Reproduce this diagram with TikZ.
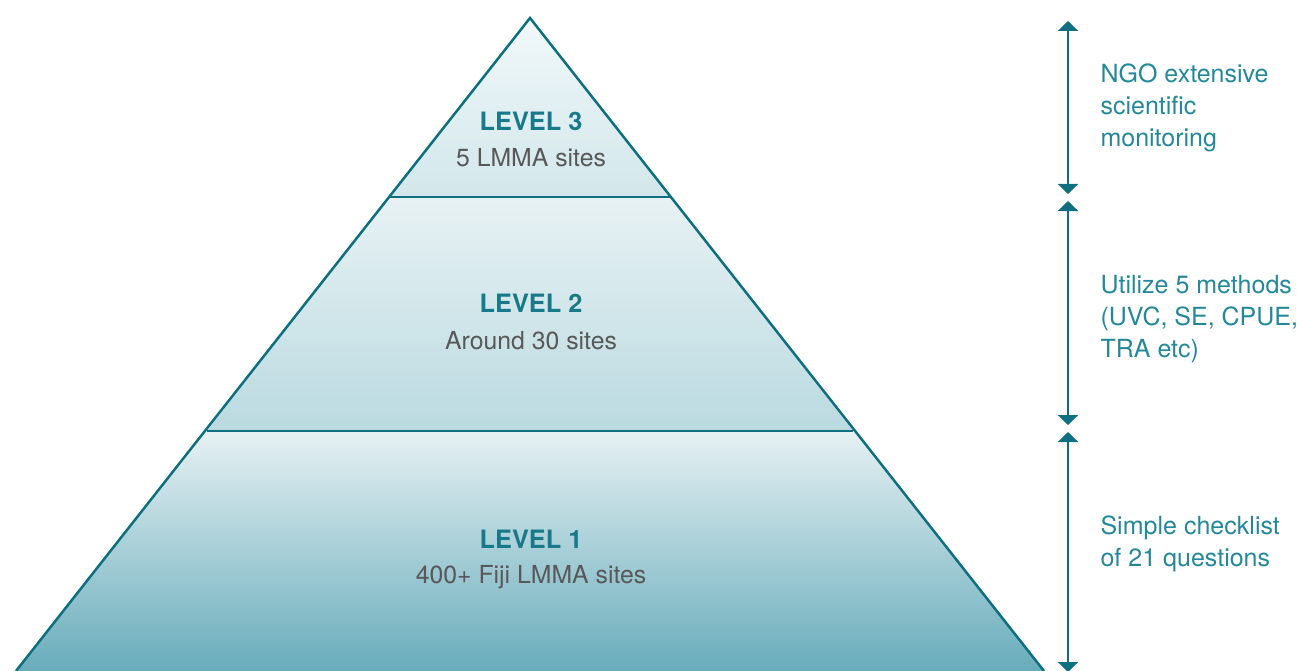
\documentclass[tikz,border=0pt]{standalone}
\usepackage{fontspec}
\setmainfont{TeX Gyre Heros}
\usetikzlibrary{arrows.meta}
\definecolor{edge}{HTML}{0E6F80}
\definecolor{teal}{HTML}{23899A}
\definecolor{levelc}{HTML}{17798A}
\definecolor{subc}{HTML}{585858}
\begin{document}
\begin{tikzpicture}[x=1pt,y=-1pt,
  outline/.style={draw=edge,line width=2.5pt,line join=miter},
  divider/.style={draw=edge,line width=2.5pt},
  span/.style={draw=edge,line width=2.6pt,{Triangle[width=20pt,length=10pt]}-{Triangle[width=20pt,length=10pt]}},
  levelname/.style={font=\fontsize{25.3}{28}\selectfont\bfseries,text=levelc,anchor=center},
  levelsub/.style={font=\fontsize{24.8}{28}\selectfont,text=subc,anchor=center},
  note/.style={font=\fontsize{25}{32}\selectfont,text=teal,anchor=west,align=left}]
\useasboundingbox (0,0) rectangle (1297,671);
% pyramid corners and tier boundaries
\coordinate (apex) at (530,18);
\coordinate (l3L) at (389,197); \coordinate (l3R) at (671,197);
\coordinate (l2L) at (207,431); \coordinate (l2R) at (853,431);
\coordinate (bL) at (16,671);  \coordinate (bR) at (1044,671);
% tier fills, each with its own vertical gradient
\shade[top color={rgb,255:red,241;green,248;blue,250},bottom color={rgb,255:red,210;green,231;blue,235}]
  (apex) -- (l3R) -- (l3L) -- cycle;
\shade[top color={rgb,255:red,232;green,242;blue,244},bottom color={rgb,255:red,186;green,218;blue,224}]
  (l3L) -- (l3R) -- (l2R) -- (l2L) -- cycle;
\shade[top color={rgb,255:red,230;green,241;blue,243},middle color={rgb,255:red,178;green,213;blue,220},bottom color={rgb,255:red,104;green,172;blue,187}]
  (l2L) -- (l2R) -- (bR) -- (bL) -- cycle;
% outline and dividers
\draw[outline] (bL) -- (apex) -- (bR);
\draw[divider] (l3L) -- (l3R);
\draw[divider] (l2L) -- (l2R);
% tier labels
\node[levelname] (t3) at (531,121) {LEVEL 3};
\node[levelsub] (s3) at (531,158) {5 LMMA sites};
\node[levelname] (t2) at (531,303) {LEVEL 2};
\node[levelsub] (s2) at (531,341) {Around 30 sites};
\node[levelname] (t1) at (531,539) {LEVEL 1};
\node[levelsub] (s1) at (531,577) {400+ Fiji LMMA sites};
% range arrows
\coordinate (a3t) at (1068,21);  \coordinate (a3b) at (1068,194);
\coordinate (a2t) at (1068,201); \coordinate (a2b) at (1068,425);
\coordinate (a1t) at (1068,432); \coordinate (a1b) at (1068,672);
\draw[span] (a3t) -- (a3b);
\draw[span] (a2t) -- (a2b);
\draw[span] (a1t) -- (a1b);
% descriptions
\node[note] (n3) at (1097,108) {NGO extensive\\scientific\\monitoring};
\node[note] (n2) at (1097,319) {Utilize 5 methods\\(UVC, SE, CPUE,\\TRA etc)};
\node[note] (n1) at (1097,544) {Simple checklist\\of 21 questions};
\end{tikzpicture}
\end{document}
